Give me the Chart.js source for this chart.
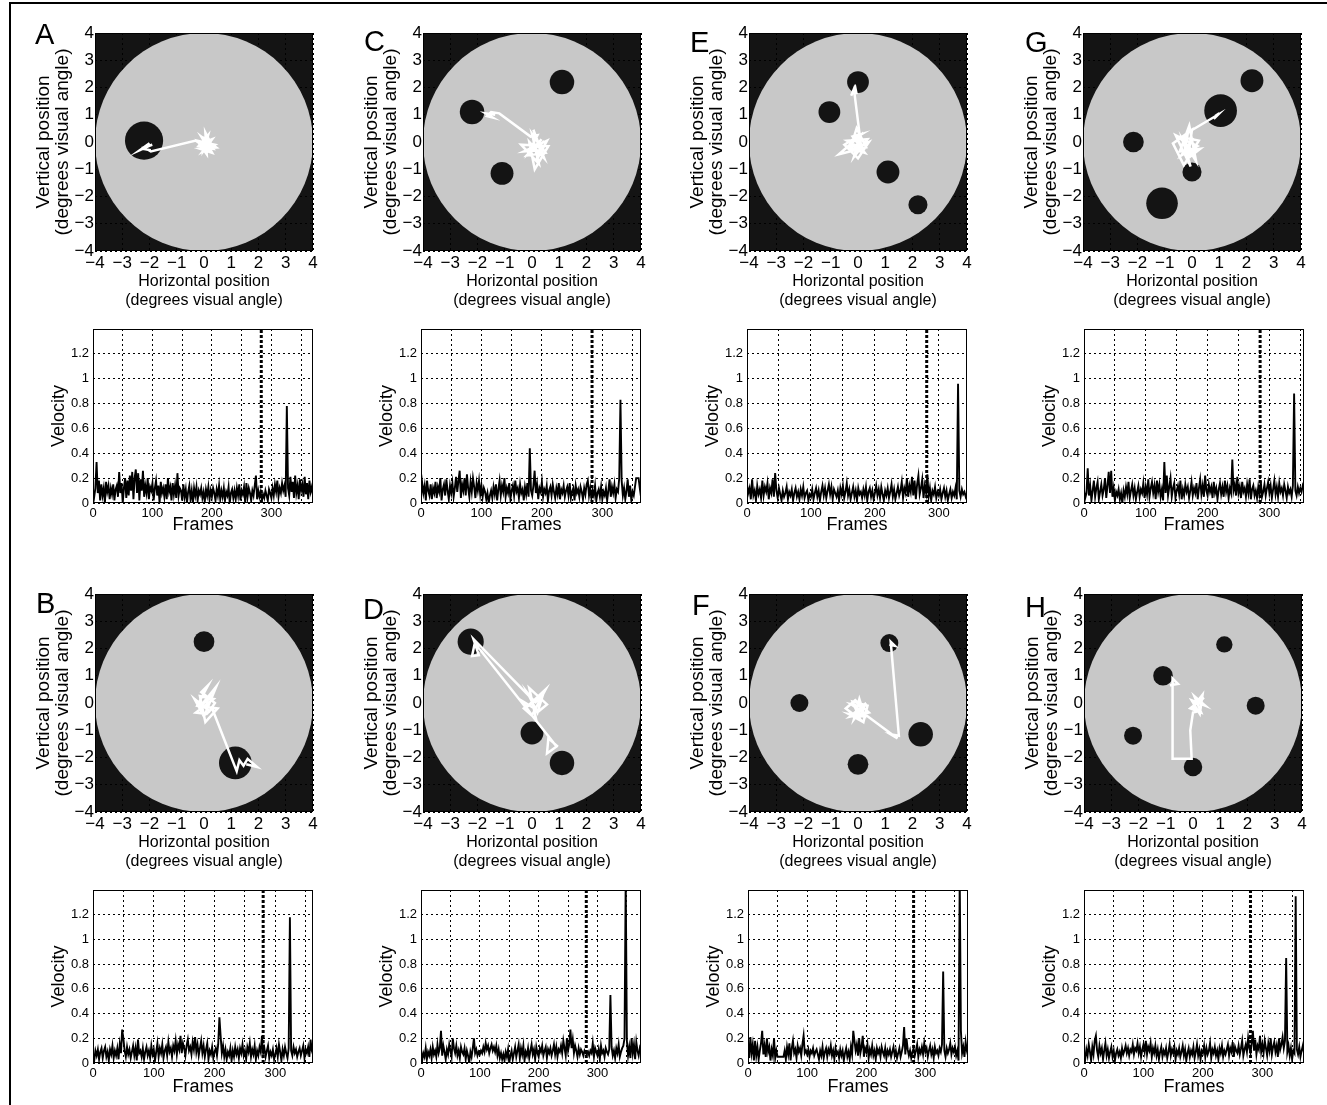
<!DOCTYPE html>
<html>
<head>
<meta charset="utf-8">
<script src="https://cdn.jsdelivr.net/npm/chart.js@4.4.1/dist/chart.umd.min.js"></script>
<style>
  html, body { margin: 0; padding: 0; background: #fff; overflow: hidden; }
  body { width: 1327px; height: 1105px; position: relative; font-family: "Liberation Sans", Arial, sans-serif; }
  .frame { position: absolute; left: 9px; top: 2px; width: 1340px; height: 1130px; border-top: 2px solid #000; border-left: 2px solid #000; }
  canvas { position: absolute; }
  .letter { position: absolute; font-size: 29px; line-height: 29px; color: #000; z-index: 5; }
</style>
</head>
<body>
<div class="frame"></div>
<div class="letter" style="left:35px;top:20px">A</div>
<div class="letter" style="left:364px;top:27px">C</div>
<div class="letter" style="left:690px;top:28px">E</div>
<div class="letter" style="left:1025px;top:28px">G</div>
<div class="letter" style="left:36px;top:589px">B</div>
<div class="letter" style="left:363px;top:595px">D</div>
<div class="letter" style="left:692px;top:591px">F</div>
<div class="letter" style="left:1025px;top:593px">H</div>

<script>
// ---- shared axis settings ----
const arenaRadius = 4;        // degrees
const posTicks = [-4, 4];
const velMax = 1.4;
const frameStep = 2;          // velocity sampled every 2nd frame

// ---- panel A ----
const targetXA = [-2.2];
const targetYA = [0.05];
const targetRA = [0.7];
const traceXA = [0.05, 0.2, -0.1, 0.3, 0.0, 0.15, -0.2, 0.35, 0.05, 0.1, -0.25, 0.4, -0.05, 0.25, 0.0, 0.3, -0.15, 0.45, 0.1, -0.1, 0.2, -0.3, -1.95, -2.2, -1.9, -2.35, -2.0, -2.25, -1.95];
const traceYA = [0.0, -0.15, -0.05, 0.1, -0.3, 0.25, -0.15, -0.25, 0.35, -0.45, 0.05, -0.1, -0.35, 0.05, 0.15, -0.4, -0.25, -0.2, 0.05, 0.2, -0.3, 0.05, -0.35, -0.2, -0.1, -0.3, -0.05, -0.25, -0.3];
const velocityA = [
  0.1, 0.05, 0.12, 0.33, 0.08, 0.18, 0.02, 0.15, 0.06, 0.12,
  0.0, 0.17, 0.09, 0.14, 0.03, 0.12, 0.07, 0.15, 0.02, 0.11,
  0.14, 0.05, 0.25, 0.08, 0.16, 0.0, 0.12, 0.2, 0.04, 0.18,
  0.06, 0.22, 0.1, 0.25, 0.03, 0.2, 0.27, 0.08, 0.24, 0.02,
  0.19, 0.1, 0.26, 0.05, 0.14, 0.08, 0.2, 0.03, 0.13, 0.1,
  0.16, 0.02, 0.12, 0.18, 0.06, 0.14, 0.0, 0.17, 0.08, 0.12,
  0.05, 0.15, 0.03, 0.2, 0.09, 0.13, 0.02, 0.16, 0.07, 0.14,
  0.04, 0.24, 0.06, 0.12, 0.1, 0.02, 0.15, 0.05, 0.11, 0.0,
  0.09, 0.14, 0.03, 0.1, 0.0, 0.12, 0.06, 0.13, 0.02, 0.1,
  0.07, 0.12, 0.04, 0.09, 0.01, 0.11, 0.06, 0.13, 0.03, 0.1,
  0.05, 0.12, 0.08, 0.02, 0.11, 0.06, 0.14, 0.03, 0.1, 0.05,
  0.12, 0.02, 0.09, 0.06, 0.13, 0.0, 0.08, 0.11, 0.04, 0.1,
  0.03, 0.12, 0.06, 0.15, 0.02, 0.1, 0.07, 0.13, 0.0, 0.16,
  0.05, 0.12, 0.08, 0.02, 0.1, 0.06, 0.14, 0.22, 0.03, 0.1,
  0.05, 0.09, 0.02, 0.07, 0.04, 0.1, 0.06, 0.02, 0.11, 0.08,
  0.04, 0.12, 0.06, 0.15, 0.09, 0.18, 0.05, 0.12, 0.08, 0.16,
  0.1, 0.14, 0.05, 0.78, 0.12, 0.06, 0.21, 0.09, 0.17, 0.04,
  0.22, 0.08, 0.14, 0.03, 0.19, 0.1, 0.15, 0.05, 0.21, 0.07,
  0.16, 0.03, 0.18, 0.09, 0.13, 0.06
];
const markerA = 283;
const maxFrameA = 370;

// ---- panel C ----
const targetXC = [1.1, -2.2, -1.1];
const targetYC = [2.2, 1.1, -1.15];
const targetRC = [0.45, 0.45, 0.42];
const traceXC = [0.1, 0.35, -0.2, 0.5, 0.0, 0.25, -0.4, 0.6, 0.1, -0.1, 0.45, 0.05, 0.3, -0.3, 0.55, 0.15, 0.35, -0.15, 0.2, -0.05, -1.2, -1.5, -1.65, -1.45, -1.7, -1.35];
const traceYC = [-0.2, 0.1, -0.5, -0.4, 0.3, -0.8, -0.1, -0.15, -1.0, 0.0, -0.6, 0.45, -0.3, -0.35, 0.05, -0.7, -0.05, -0.45, 0.25, 0.2, 1.05, 1.1, 0.95, 0.9, 1.05, 1.0];
const velocityC = [
  0.05, 0.16, 0.08, 0.14, 0.02, 0.18, 0.1, 0.06, 0.15, 0.03,
  0.12, 0.08, 0.17, 0.04, 0.13, 0.09, 0.2, 0.02, 0.11, 0.15,
  0.06, 0.19, 0.1, 0.03, 0.14, 0.08, 0.16, 0.05, 0.12, 0.21,
  0.09, 0.18, 0.26, 0.04, 0.15, 0.1, 0.2, 0.06, 0.23, 0.12,
  0.05, 0.17, 0.09, 0.2, 0.13, 0.04, 0.16, 0.1, 0.18, 0.07,
  0.14, 0.05, 0.12, 0.09, 0.03, 0.08, 0.0, 0.06, 0.1, 0.04,
  0.13, 0.07, 0.15, 0.02, 0.11, 0.18, 0.06, 0.14, 0.09, 0.2,
  0.05, 0.12, 0.08, 0.16, 0.03, 0.1, 0.14, 0.06, 0.18, 0.09,
  0.12, 0.04, 0.15, 0.08, 0.11, 0.02, 0.13, 0.07, 0.16, 0.05,
  0.44, 0.1, 0.06, 0.14, 0.26, 0.08, 0.15, 0.03, 0.12, 0.09,
  0.17, 0.05, 0.11, 0.08, 0.14, 0.02, 0.1, 0.13, 0.06, 0.15,
  0.09, 0.04, 0.12, 0.07, 0.16, 0.03, 0.11, 0.08, 0.14, 0.05,
  0.1, 0.13, 0.06, 0.16, 0.04, 0.09, 0.12, 0.02, 0.14, 0.08,
  0.11, 0.05, 0.13, 0.09, 0.03, 0.12, 0.07, 0.15, 0.18, 0.06,
  0.12, 0.04, 0.1, 0.06, 0.14, 0.02, 0.08, 0.11, 0.05, 0.13,
  0.03, 0.09, 0.06, 0.12, 0.02, 0.1, 0.19, 0.05, 0.13, 0.08,
  0.15, 0.04, 0.11, 0.09, 0.2, 0.83, 0.18, 0.06, 0.12, 0.03,
  0.1, 0.19, 0.05, 0.14, 0.02, 0.09, 0.06, 0.13, 0.2, 0.2,
  0.2, 0.12, 0.05
];
const markerC = 283;
const maxFrameC = 364;

// ---- panel E ----
const targetXE = [0.0, -1.05, 1.1, 2.2];
const targetYE = [2.2, 1.1, -1.1, -2.3];
const targetRE = [0.4, 0.4, 0.42, 0.35];
const traceXE = [-0.1, 0.2, -0.4, 0.35, -0.15, 0.1, -0.7, 0.3, -0.05, -0.3, 0.4, 0.0, -0.5, 0.15, -0.2, 0.25, -0.35, 0.1, 0.05, -0.15, -0.25, -0.1, -0.05];
const traceYE = [-0.1, -0.3, 0.05, 0.1, -0.55, 0.25, -0.45, -0.2, 0.5, -0.3, 0.0, -0.6, -0.1, 0.3, 0.2, -0.4, -0.2, -0.05, 0.35, 1.95, 1.7, 2.0, 1.75];
const velocityE = [
  0.15, 0.08, 0.12, 0.03, 0.19, 0.06, 0.1, 0.02, 0.14, 0.07,
  0.11, 0.04, 0.18, 0.06, 0.13, 0.09, 0.16, 0.03, 0.12, 0.08,
  0.19, 0.05, 0.24, 0.1, 0.04, 0.12, 0.07, 0.02, 0.1, 0.05,
  0.08, 0.13, 0.03, 0.09, 0.06, 0.11, 0.02, 0.08, 0.12, 0.05,
  0.09, 0.03, 0.11, 0.06, 0.13, 0.04, 0.08, 0.1, 0.02, 0.07,
  0.05, 0.11, 0.03, 0.08, 0.12, 0.05, 0.1, 0.02, 0.09, 0.14,
  0.06, 0.12, 0.04, 0.1, 0.15, 0.07, 0.13, 0.03, 0.11, 0.08,
  0.05, 0.1, 0.02, 0.12, 0.07, 0.14, 0.04, 0.09, 0.16, 0.06,
  0.11, 0.03, 0.08, 0.13, 0.05, 0.1, 0.02, 0.12, 0.07, 0.09,
  0.04, 0.11, 0.06, 0.13, 0.02, 0.09, 0.12, 0.05, 0.1, 0.03,
  0.08, 0.14, 0.06, 0.11, 0.04, 0.13, 0.07, 0.02, 0.1, 0.06,
  0.12, 0.04, 0.09, 0.15, 0.05, 0.11, 0.03, 0.08, 0.13, 0.06,
  0.1, 0.17, 0.04, 0.12, 0.08, 0.2, 0.05, 0.14, 0.09, 0.21,
  0.06, 0.18, 0.03, 0.15, 0.22, 0.07, 0.12, 0.19, 0.04, 0.14,
  0.08, 0.23, 0.05, 0.12, 0.02, 0.1, 0.07, 0.13, 0.04, 0.09,
  0.06, 0.11, 0.03, 0.08, 0.12, 0.05, 0.1, 0.02, 0.07, 0.11,
  0.04, 0.09, 0.06, 0.12, 0.03, 0.96, 0.1, 0.05, 0.11, 0.07,
  0.09, 0.05, 0.08
];
const markerE = 281;
const maxFrameE = 344;

// ---- panel G ----
const targetXG = [2.2, 1.05, -2.15, 0.0, -1.1];
const targetYG = [2.25, 1.15, 0.0, -1.1, -2.25];
const targetRG = [0.42, 0.6, 0.38, 0.35, 0.58];
const traceXG = [-0.25, 0.1, -0.5, 0.25, -0.3, -0.7, 0.0, -0.15, 0.3, -0.45, -0.1, 0.15, -0.35, -0.05, -0.6, 0.2, -0.4, 0.05, -0.25, -0.15, 0.95, 0.8, 1.0, 0.85];
const traceYG = [-0.1, -0.4, 0.2, 0.05, -0.85, -0.05, 0.45, -0.6, -0.25, -0.35, 0.6, -0.7, 0.1, -0.9, 0.25, -0.15, -0.5, 0.15, -0.3, 0.35, 1.0, 0.85, 1.05, 0.95];
const velocityG = [
  0.1, 0.04, 0.08, 0.28, 0.06, 0.14, 0.02, 0.1, 0.18, 0.05,
  0.12, 0.17, 0.03, 0.09, 0.15, 0.06, 0.11, 0.2, 0.04, 0.14,
  0.25, 0.08, 0.26, 0.05, 0.12, 0.02, 0.09, 0.06, 0.11, 0.03,
  0.08, 0.0, 0.1, 0.05, 0.13, 0.07, 0.17, 0.04, 0.1, 0.15,
  0.06, 0.12, 0.03, 0.09, 0.14, 0.05, 0.11, 0.08, 0.16, 0.04,
  0.13, 0.07, 0.19, 0.05, 0.12, 0.17, 0.08, 0.14, 0.03, 0.18,
  0.09, 0.15, 0.05, 0.11, 0.02, 0.33, 0.08, 0.22, 0.06, 0.13,
  0.2, 0.05, 0.12, 0.16, 0.04, 0.1, 0.14, 0.07, 0.18, 0.03,
  0.11, 0.06, 0.15, 0.09, 0.13, 0.04, 0.1, 0.17, 0.06, 0.12,
  0.08, 0.16, 0.03, 0.12, 0.19, 0.07, 0.14, 0.05, 0.22, 0.1,
  0.06, 0.15, 0.09, 0.13, 0.04, 0.17, 0.08, 0.12, 0.03, 0.11,
  0.16, 0.07, 0.13, 0.05, 0.18, 0.09, 0.14, 0.04, 0.12, 0.08,
  0.35, 0.1, 0.15, 0.06, 0.21, 0.08, 0.13, 0.04, 0.17, 0.09,
  0.12, 0.05, 0.15, 0.08, 0.19, 0.03, 0.11, 0.14, 0.06, 0.1,
  0.04, 0.13, 0.07, 0.18, 0.05, 0.09, 0.15, 0.06, 0.12, 0.17,
  0.08, 0.14, 0.04, 0.11, 0.18, 0.07, 0.13, 0.05, 0.16, 0.09,
  0.12, 0.06, 0.15, 0.1, 0.04, 0.13, 0.08, 0.11, 0.05, 0.14,
  0.88, 0.1, 0.06, 0.13, 0.08, 0.12, 0.09, 0.14, 0.11
];
const markerG = 285;
const maxFrameG = 356;

// ---- panel B ----
const targetXB = [0.0, 1.15];
const targetYB = [2.25, -2.2];
const targetRB = [0.38, 0.6];
const traceXB = [0.05, 0.3, -0.2, 0.45, 0.0, -0.35, 0.2, 0.4, -0.1, 0.15, -0.25, 0.5, 0.05, -0.15, 0.35, -0.3, 0.1, 0.3, 1.2, 1.3, 1.45, 1.6, 1.95, 1.55];
const traceYB = [0.0, 0.3, -0.2, 0.6, -0.5, 0.15, -0.3, 0.0, 0.4, 0.65, -0.1, -0.2, -0.7, 0.25, 0.15, -0.35, -0.4, -0.2, -2.5, -2.1, -2.3, -2.05, -2.35, -2.25];
const velocityB = [
  0.08, 0.02, 0.1, 0.06, 0.11, 0.03, 0.09, 0.12, 0.04, 0.1,
  0.13, 0.05, 0.09, 0.02, 0.11, 0.07, 0.14, 0.04, 0.1, 0.06,
  0.12, 0.03, 0.15, 0.08, 0.27, 0.2, 0.1, 0.05, 0.13, 0.07,
  0.11, 0.04, 0.09, 0.14, 0.06, 0.12, 0.02, 0.19, 0.08, 0.1,
  0.05, 0.12, 0.03, 0.09, 0.13, 0.06, 0.1, 0.04, 0.14, 0.07,
  0.11, 0.02, 0.09, 0.16, 0.05, 0.12, 0.08, 0.15, 0.04, 0.1,
  0.13, 0.06, 0.17, 0.09, 0.12, 0.05, 0.14, 0.1, 0.18, 0.07,
  0.15, 0.11, 0.22, 0.08, 0.16, 0.12, 0.06, 0.14, 0.19, 0.1,
  0.13, 0.07, 0.17, 0.11, 0.21, 0.09, 0.15, 0.06, 0.12, 0.18,
  0.08, 0.14, 0.05, 0.11, 0.16, 0.03, 0.1, 0.07, 0.13, 0.04,
  0.09, 0.12, 0.06, 0.15, 0.37, 0.22, 0.08, 0.14, 0.05, 0.11,
  0.03, 0.09, 0.06, 0.12, 0.02, 0.1, 0.05, 0.13, 0.07, 0.11,
  0.04, 0.12, 0.08, 0.15, 0.06, 0.1, 0.03, 0.13, 0.09, 0.16,
  0.05, 0.11, 0.07, 0.14, 0.03, 0.1, 0.06, 0.13, 0.09, 0.22,
  0.08, 0.12, 0.05, 0.1, 0.14, 0.04, 0.09, 0.06, 0.11, 0.03,
  0.07, 0.12, 0.05, 0.15, 0.09, 0.02, 0.11, 0.06, 0.13, 0.08,
  0.04, 0.12, 1.18, 0.1, 0.06, 0.13, 0.08, 0.11, 0.05, 0.09,
  0.12, 0.06, 0.1, 0.14, 0.04, 0.11, 0.08, 0.13, 0.05, 0.19,
  0.1, 0.07
];
const markerB = 280;
const maxFrameB = 362;

// ---- panel D ----
const targetXD = [-2.25, 0.0, 1.1];
const targetYD = [2.25, -1.1, -2.2];
const targetRD = [0.48, 0.42, 0.45];
const traceXD = [0.1, 0.35, -0.2, 0.5, 0.0, -0.4, 0.25, 0.55, -0.1, 0.15, -0.3, 0.4, 0.2, -0.15, 0.05, -2.15, -1.95, -2.2, -2.1, 0.9, 0.55, 0.6, 0.95];
const traceYD = [0.0, 0.25, -0.15, 0.5, -0.45, 0.1, -0.3, -0.05, 0.55, -0.6, -0.2, 0.3, -0.35, 0.35, 0.1, 2.35, 1.75, 1.72, 2.2, -1.6, -1.85, -1.3, -1.6];
const velocityD = [
  0.1, 0.02, 0.08, 0.05, 0.12, 0.03, 0.09, 0.06, 0.11, 0.04,
  0.13, 0.07, 0.1, 0.05, 0.15, 0.08, 0.12, 0.26, 0.06, 0.14,
  0.09, 0.03, 0.11, 0.07, 0.15, 0.1, 0.05, 0.2, 0.12, 0.08,
  0.14, 0.06, 0.1, 0.04, 0.13, 0.09, 0.07, 0.12, 0.03, 0.1,
  0.06, 0.0, 0.09, 0.05, 0.12, 0.2, 0.08, 0.11, 0.06, 0.09,
  0.07, 0.1, 0.08, 0.13, 0.09, 0.16, 0.11, 0.14, 0.08, 0.12,
  0.15, 0.1, 0.13, 0.09, 0.14, 0.06, 0.11, 0.04, 0.08, 0.03,
  0.07, 0.02, 0.09, 0.05, 0.11, 0.0, 0.06, 0.1, 0.03, 0.08,
  0.13, 0.05, 0.1, 0.15, 0.04, 0.12, 0.07, 0.14, 0.02, 0.09,
  0.06, 0.12, 0.04, 0.1, 0.15, 0.07, 0.11, 0.03, 0.13, 0.08,
  0.05, 0.12, 0.09, 0.14, 0.06, 0.1, 0.13, 0.04, 0.11, 0.08,
  0.12, 0.06, 0.1, 0.15, 0.07, 0.13, 0.05, 0.11, 0.09, 0.14,
  0.08, 0.18, 0.12, 0.06, 0.2, 0.1, 0.15, 0.27, 0.12, 0.19,
  0.08, 0.14, 0.1, 0.05, 0.12, 0.07, 0.11, 0.09, 0.06, 0.1,
  0.08, 0.07, 0.09, 0.06, 0.1, 0.08, 0.16, 0.05, 0.12, 0.09,
  0.06, 0.11, 0.03, 0.14, 0.08, 0.1, 0.05, 0.12, 0.09, 0.07,
  0.11, 0.55, 0.13, 0.06, 0.1, 0.04, 0.12, 0.08, 0.15, 0.05,
  0.09, 0.12, 0.14, 0.2, 1.5, 0.18, 0.06, 0.13, 0.04, 0.2,
  0.08, 0.15, 0.03, 0.17, 0.1, 0.06, 0.12, 0.09
];
const markerD = 281;
const maxFrameD = 374;

// ---- panel F ----
const targetXF = [1.15, -2.15, 2.3, 0.0];
const targetYF = [2.2, 0.0, -1.15, -2.25];
const targetRF = [0.33, 0.33, 0.45, 0.38];
const traceXF = [0.0, 0.3, -0.3, 0.4, -0.1, -0.45, 0.2, 0.35, -0.2, 0.1, -0.35, 0.25, 0.05, -0.15, 0.2, -0.25, 0.3, 1.45, 1.2, 1.5, 1.2, 1.35, 1.15];
const traceYF = [-0.3, 0.0, -0.5, -0.35, 0.1, -0.2, -0.7, -0.1, 0.05, -0.65, -0.4, -0.5, 0.15, -0.6, -0.15, -0.05, -0.45, -1.3, -1.15, -1.2, 2.25, 2.1, 2.15];
const velocityF = [
  0.12, 0.04, 0.21, 0.08, 0.15, 0.02, 0.18, 0.06, 0.13, 0.03,
  0.1, 0.16, 0.26, 0.07, 0.14, 0.05, 0.2, 0.09, 0.13, 0.02,
  0.11, 0.06, 0.2, 0.04, 0.1, 0.05, 0.05, 0.05, 0.05, 0.05,
  0.05, 0.1, 0.03, 0.13, 0.07, 0.16, 0.02, 0.12, 0.18, 0.08,
  0.11, 0.04, 0.14, 0.09, 0.12, 0.06, 0.15, 0.22, 0.08, 0.1,
  0.07, 0.11, 0.05, 0.1, 0.08, 0.12, 0.06, 0.09, 0.11, 0.07,
  0.03, 0.1, 0.06, 0.13, 0.04, 0.09, 0.12, 0.05, 0.11, 0.08,
  0.14, 0.06, 0.1, 0.03, 0.12, 0.07, 0.09, 0.04, 0.11, 0.06,
  0.1, 0.02, 0.08, 0.12, 0.05, 0.09, 0.03, 0.13, 0.07, 0.26,
  0.18, 0.1, 0.15, 0.06, 0.2, 0.08, 0.13, 0.22, 0.05, 0.12,
  0.09, 0.15, 0.04, 0.11, 0.07, 0.14, 0.06, 0.1, 0.03, 0.12,
  0.08, 0.11, 0.05, 0.13, 0.09, 0.06, 0.12, 0.04, 0.1, 0.07,
  0.11, 0.05, 0.09, 0.13, 0.06, 0.1, 0.04, 0.08, 0.12, 0.05,
  0.09, 0.14, 0.29, 0.07, 0.2, 0.11, 0.06, 0.1, 0.04, 0.09,
  0.12, 0.06, 0.1, 0.15, 0.05, 0.11, 0.08, 0.13, 0.07, 0.16,
  0.09, 0.12, 0.05, 0.1, 0.14, 0.07, 0.11, 0.04, 0.13, 0.08,
  0.1, 0.06, 0.12, 0.09, 0.15, 0.74, 0.1, 0.05, 0.12, 0.08,
  0.11, 0.16, 0.07, 0.12, 0.09, 0.13, 0.06, 0.1, 0.02, 1.5,
  0.26, 0.08, 0.13, 0.05, 0.17, 0.1, 0.06
];
const markerF = 280;
const maxFrameF = 372;

// ---- panel H ----
const targetXH = [1.15, -1.1, 2.3, -2.2, 0.0];
const targetYH = [2.15, 1.0, -0.1, -1.2, -2.35];
const targetRH = [0.3, 0.36, 0.33, 0.33, 0.34];
const traceXH = [0.15, 0.4, -0.1, 0.3, 0.05, 0.45, -0.05, 0.25, 0.35, 0.0, 0.2, 0.0, -0.1, -0.05, -0.75, -0.75, -0.55, -0.85];
const traceYH = [-0.05, 0.2, -0.2, -0.35, 0.25, -0.1, 0.1, -0.4, 0.3, -0.15, -0.3, -0.35, -1.0, -2.05, -2.05, 0.9, 0.7, 0.65];
const velocityH = [
  0.08, 0.03, 0.11, 0.06, 0.15, 0.09, 0.02, 0.13, 0.07, 0.18,
  0.22, 0.1, 0.05, 0.14, 0.08, 0.12, 0.03, 0.1, 0.16, 0.06,
  0.11, 0.04, 0.09, 0.13, 0.05, 0.1, 0.02, 0.08, 0.11, 0.06,
  0.09, 0.04, 0.12, 0.07, 0.1, 0.14, 0.08, 0.12, 0.06, 0.11,
  0.09, 0.15, 0.07, 0.12, 0.1, 0.16, 0.08, 0.13, 0.05, 0.11,
  0.15, 0.09, 0.18, 0.07, 0.13, 0.1, 0.16, 0.05, 0.12, 0.08,
  0.14, 0.06, 0.11, 0.03, 0.09, 0.13, 0.05, 0.1, 0.07, 0.12,
  0.04, 0.09, 0.15, 0.06, 0.11, 0.08, 0.13, 0.03, 0.1, 0.07,
  0.12, 0.05, 0.09, 0.14, 0.06, 0.11, 0.02, 0.08, 0.12, 0.05,
  0.1, 0.07, 0.13, 0.04, 0.09, 0.15, 0.06, 0.11, 0.03, 0.1,
  0.08, 0.14, 0.05, 0.12, 0.07, 0.1, 0.16, 0.04, 0.11, 0.08,
  0.13, 0.06, 0.1, 0.03, 0.12, 0.08, 0.14, 0.05, 0.1, 0.07,
  0.11, 0.15, 0.06, 0.12, 0.09, 0.17, 0.05, 0.13, 0.1, 0.08,
  0.14, 0.07, 0.12, 0.18, 0.06, 0.11, 0.15, 0.09, 0.2, 0.12,
  0.08, 0.16, 0.26, 0.1, 0.19, 0.07, 0.14, 0.11, 0.22, 0.09,
  0.15, 0.08, 0.18, 0.12, 0.06, 0.16, 0.1, 0.2, 0.07, 0.13,
  0.17, 0.09, 0.14, 0.05, 0.2, 0.11, 0.15, 0.21, 0.12, 0.18,
  0.85, 0.09, 0.14, 0.06, 0.12, 0.03, 0.1, 0.08, 1.35, 0.11,
  0.07, 0.13, 0.05, 0.1, 0.14, 0.08
];
const markerH = 280;
const maxFrameH = 370;

// ---- page layout: [left, top] of each plot area ----
const panels = [
  { tx: targetXA, ty: targetYA, tr: targetRA, px: traceXA, py: traceYA, vel: velocityA, marker: markerA, maxFrame: maxFrameA, pos: [95, 33], velBox: [93, 329, 174] },
  { tx: targetXC, ty: targetYC, tr: targetRC, px: traceXC, py: traceYC, vel: velocityC, marker: markerC, maxFrame: maxFrameC, pos: [423, 33], velBox: [421, 329, 174] },
  { tx: targetXE, ty: targetYE, tr: targetRE, px: traceXE, py: traceYE, vel: velocityE, marker: markerE, maxFrame: maxFrameE, pos: [749, 33], velBox: [747, 329, 174] },
  { tx: targetXG, ty: targetYG, tr: targetRG, px: traceXG, py: traceYG, vel: velocityG, marker: markerG, maxFrame: maxFrameG, pos: [1083, 33], velBox: [1084, 329, 174] },
  { tx: targetXB, ty: targetYB, tr: targetRB, px: traceXB, py: traceYB, vel: velocityB, marker: markerB, maxFrame: maxFrameB, pos: [95, 594], velBox: [93, 890, 173] },
  { tx: targetXD, ty: targetYD, tr: targetRD, px: traceXD, py: traceYD, vel: velocityD, marker: markerD, maxFrame: maxFrameD, pos: [423, 594], velBox: [421, 890, 173] },
  { tx: targetXF, ty: targetYF, tr: targetRF, px: traceXF, py: traceYF, vel: velocityF, marker: markerF, maxFrame: maxFrameF, pos: [749, 594], velBox: [748, 890, 173] },
  { tx: targetXH, ty: targetYH, tr: targetRH, px: traceXH, py: traceYH, vel: velocityH, marker: markerH, maxFrame: maxFrameH, pos: [1084, 594], velBox: [1084, 890, 173] }
];

const FONT = "'Liberation Sans', Arial, sans-serif";
const POS_SIZE = 218;
const VEL_WIDTH = 220;

// black background under the plot area + a closed box round it
const plotFrame = {
  id: 'plotFrame',
  beforeDraw(chart, args, opts) {
    if (!opts.fill) return;
    const a = chart.chartArea;
    chart.ctx.save();
    chart.ctx.fillStyle = opts.fill;
    chart.ctx.fillRect(a.left, a.top, a.right - a.left, a.bottom - a.top);
    chart.ctx.restore();
  },
  afterDraw(chart) {
    const a = chart.chartArea;
    const ctx = chart.ctx;
    ctx.save();
    ctx.strokeStyle = '#000';
    ctx.lineWidth = 1;
    ctx.strokeRect(a.left + 0.5, a.top + 0.5, a.right - a.left - 1, a.bottom - a.top - 1);
    ctx.restore();
  }
};
Chart.register(plotFrame);

function addCanvas(left, top, w, h) {
  const cv = document.createElement('canvas');
  cv.width = w;
  cv.height = h;
  cv.style.left = left + 'px';
  cv.style.top = top + 'px';
  cv.style.width = w + 'px';
  cv.style.height = h + 'px';
  document.body.appendChild(cv);
  return cv;
}

function degToPx(chart, r) {
  const s = chart.scales.x;
  return Math.abs(s.getPixelForValue(r) - s.getPixelForValue(0));
}

const signed = v => (v < 0 ? '\u2212' + Math.abs(v) : String(v));

const baseOptions = {
  responsive: false,
  maintainAspectRatio: false,
  devicePixelRatio: 1,
  animation: false,
  events: [],
  plugins: { legend: { display: false }, tooltip: { enabled: false } }
};

function makePositionChart(p) {
  const [L, T] = p.pos;
  const cv = addCanvas(L - 95, T - 12, 95 + POS_SIZE + 22, 12 + POS_SIZE + 75);
  new Chart(cv, {
    type: 'scatter',
    data: {
      datasets: [
        {
          data: p.px.map((x, i) => ({ x: x, y: p.py[i] })),
          showLine: true, borderColor: '#fff', backgroundColor: '#fff',
          borderWidth: 2.5, pointRadius: 0, order: 0
        },
        {
          data: p.tx.map((x, i) => ({ x: x, y: p.ty[i] })),
          pointRadius: ctx => degToPx(ctx.chart, p.tr[ctx.dataIndex]),
          backgroundColor: '#141414', borderWidth: 0, order: 1
        },
        {
          data: [{ x: 0, y: 0 }],
          pointRadius: ctx => degToPx(ctx.chart, arenaRadius),
          backgroundColor: '#c8c8c8', borderWidth: 0, order: 2
        }
      ]
    },
    options: Object.assign({}, baseOptions, {
      layout: { padding: { left: 0, top: 12, right: 22, bottom: 0 } },
      plugins: Object.assign({}, baseOptions.plugins, { plotFrame: { fill: '#141414' } }),
      scales: {
        x: {
          type: 'linear', min: posTicks[0], max: posTicks[1], z: 1,
          afterFit: s => { s.height = 75; },
          ticks: { stepSize: 1, autoSkip: false, maxRotation: 0, padding: 2, color: '#000',
                   font: { family: FONT, size: 17 }, callback: signed },
          grid: { color: '#000', lineWidth: 1, drawTicks: false },
          border: { display: false, dash: [2, 3] },
          title: { display: true, text: ['Horizontal position', '(degrees visual angle)'], color: '#000',
                   font: { family: FONT, size: 16, lineHeight: '19px' }, padding: { top: 0, bottom: 16 } }
        },
        y: {
          type: 'linear', min: posTicks[0], max: posTicks[1], z: 1,
          afterFit: s => { s.width = 95; },
          ticks: { stepSize: 1, autoSkip: false, padding: 1, color: '#000',
                   font: { family: FONT, size: 17 }, callback: signed },
          grid: { color: '#000', lineWidth: 1, drawTicks: false },
          border: { display: false, dash: [2, 3] },
          title: { display: true, text: ['Vertical position', '(degrees visual angle)'], color: '#000',
                   font: { family: FONT, size: 19, lineHeight: '19px' }, padding: { top: 34, bottom: 0 } }
        }
      }
    })
  });
}

function makeVelocityChart(p, bottomPad) {
  const [L, T, H] = p.velBox;
  const cv = addCanvas(L - 88, T - 12, 88 + VEL_WIDTH + 18, 12 + H + 45);
  new Chart(cv, {
    type: 'line',
    data: {
      datasets: [
        {
          data: [{ x: p.marker, y: 0 }, { x: p.marker, y: velMax }],
          borderColor: '#000', borderWidth: 3, borderDash: [3, 2], pointRadius: 0, order: 0
        },
        {
          data: p.vel.map((v, i) => ({ x: i * frameStep, y: v })),
          borderColor: '#000', borderWidth: 1.9, pointRadius: 0, tension: 0, order: 1
        }
      ]
    },
    options: Object.assign({}, baseOptions, {
      layout: { padding: { left: 0, top: 12, right: 18, bottom: 0 } },
      scales: {
        x: {
          type: 'linear', min: 0, max: p.maxFrame,
          afterFit: s => { s.height = 45; },
          ticks: { stepSize: 50, includeBounds: false, autoSkip: false, maxRotation: 0, padding: 3, color: '#000',
                   font: { family: FONT, size: 13 }, callback: v => (v % 100 === 0 ? String(v) : '') },
          grid: { color: '#000', lineWidth: 1, drawTicks: false },
          border: { display: false, dash: [2, 3] },
          title: { display: true, text: 'Frames', color: '#000',
                   font: { family: FONT, size: 18, lineHeight: '18px' }, padding: { top: 0, bottom: bottomPad } }
        },
        y: {
          type: 'linear', min: 0, max: velMax,
          afterFit: s => { s.width = 88; },
          ticks: { stepSize: 0.2, autoSkip: false, padding: 4, color: '#000',
                   font: { family: FONT, size: 13 }, callback: v => (v > 1.3 ? '' : String(+v.toFixed(1))) },
          grid: { color: '#000', lineWidth: 1, drawTicks: false },
          border: { display: false, dash: [2, 3] },
          title: { display: true, text: 'Velocity', color: '#000',
                   font: { family: FONT, size: 18, lineHeight: '18px' }, padding: { top: 45, bottom: 0 } }
        }
      }
    })
  });
}

panels.forEach((p, i) => {
  makePositionChart(p);
  makeVelocityChart(p, i < 4 ? 14 : 12);
});
</script>
</body>
</html>
